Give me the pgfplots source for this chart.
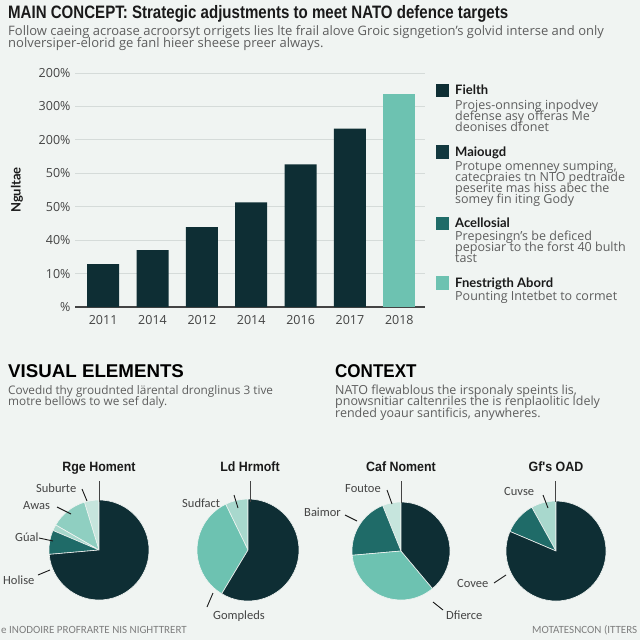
\documentclass[border=0pt]{standalone}
\usepackage{pgfplots}
\pgfplotsset{compat=1.18}
\usepackage{fontspec}
\setmainfont{Open Sans}
\newfontfamily\carl{Carlito}
\newfontfamily\headfont[FakeStretch=0.837]{Liberation Sans}
\newfontfamily\secfont[FakeStretch=0.92]{Liberation Sans}
\newfontfamily\labfont{Lato}
\definecolor{bg}{HTML}{F0F4F2}
\definecolor{dk}{HTML}{0E2E34}
\definecolor{dk2}{HTML}{12383F}
\definecolor{md}{HTML}{1F6B68}
\definecolor{lt}{HTML}{6DC2B1}
\definecolor{lt2}{HTML}{8FCFC1}
\definecolor{pl}{HTML}{A8D8CD}
\definecolor{vpl}{HTML}{C6E5DD}
\definecolor{gridc}{HTML}{D5DBD9}
\definecolor{txt}{HTML}{1A1A1A}
\definecolor{gtxt}{HTML}{5E5E5E}
\definecolor{ltxt}{HTML}{444444}
\newcommand{\fs}[1]{\fontsize{#1bp}{#1bp}\selectfont}
% pie slice: color, start angle, end angle, radius
\newcommand{\slice}[4]{\fill[#1, draw=bg, line width=0.6bp] (axis cs:0,0) -- ++(#2:#4bp) arc[start angle=#2, end angle=#3, radius=#4bp] -- cycle;}
\begin{document}
\begin{tikzpicture}
\useasboundingbox (0,0) rectangle (640bp,-640bp);
\fill[bg] (0,0) rectangle (640bp,-640bp);

% ---------------- bar chart ----------------
\begin{axis}[at={(75bp,-307bp)}, anchor=south west, scale only axis,
  width=350bp, height=234bp,
  ymin=0, ymax=7, xmin=-0.57, xmax=6.52,
  ybar, bar width=32bp,
  axis x line*=bottom, axis y line*=left,
  x axis line style={draw=ltxt, line width=1.2bp},
  y axis line style={draw=none},
  ytick={0,1,2,3,4,5,6,7},
  yticklabels={\%,10\%,40\%,50\%,50\%,200\%,300\%,200\%},
  xtick={0,1,2,3,4,5,6},
  xticklabels={2011,2014,2012,2014,2016,2017,2018},
  ymajorgrids, grid style={draw=gridc, line width=0.8bp},
  major tick length=0pt,
  /pgf/number format/assume math mode=true,
  ticklabel style={font=\fs{12.5}, text=ltxt},
  yticklabel style={xshift=-1bp},
  xticklabel style={yshift=-5bp},
]
\addplot[fill=dk, draw=none, bar shift=0pt] coordinates {(0,1.28) (1,1.70) (2,2.39) (3,3.13) (4,4.27) (5,5.34)};
\addplot[fill=lt, draw=none, bar shift=0pt] coordinates {(6,6.36)};
\end{axis}

% ---------------- pies ----------------
\begin{axis}[at={(99bp,-550bp)}, anchor=center, scale only axis, width=100bp, height=100bp,
  xmin=-1, xmax=1, ymin=-1, ymax=1, hide axis, clip=false]
% shares: 4.7, 11.9, 1.9, 7.8, 73.7 (%)
\slice{vpl}{90}{107}{50}
\slice{lt2}{107}{150}{50}
\slice{pl}{150}{157}{50}
\slice{md}{157}{185}{50}
\slice{dk}{185}{450}{50}
\end{axis}

\begin{axis}[at={(248bp,-550bp)}, anchor=center, scale only axis, width=100bp, height=100bp,
  xmin=-1, xmax=1, ymin=-1, ymax=1, hide axis, clip=false]
% shares: 7.2, 34.2, 58.6 (%)
\slice{pl}{90}{116}{51}
\slice{lt}{116}{239}{51}
\slice{dk}{239}{450}{51}
\end{axis}

\begin{axis}[at={(401bp,-551bp)}, anchor=center, scale only axis, width=100bp, height=100bp,
  xmin=-1, xmax=1, ymin=-1, ymax=1, hide axis, clip=false]
% shares: 6.1, 20.3, 34.7, 38.9 (%)
\slice{vpl}{90}{112}{49}
\slice{md}{112}{185}{49}
\slice{lt}{185}{310}{49}
\slice{dk}{310}{450}{49}
\end{axis}

\begin{axis}[at={(556bp,-551bp)}, anchor=center, scale only axis, width=100bp, height=100bp,
  xmin=-1, xmax=1, ymin=-1, ymax=1, hide axis, clip=false]
% shares: 8.0, 10.6, 81.4 (%)
\slice{pl}{90}{119}{50}
\slice{md}{119}{157}{50}
\slice{dk}{157}{450}{50}
\end{axis}

% ---------------- text ----------------
\begin{scope}[x=1bp, y=-1bp, every node/.style={inner sep=0pt, anchor=base west}]
\node[text=txt] at (8,18.5) {\headfont\bfseries\fs{18}MAIN CONCEPT: Strategic adjustments to meet NATO defence targets};
\node[text=gtxt] at (8,35) {\fs{13}Follow caeing acroase acroorsyt orrigets lies lte frail alove Groic signgetion's golvid interse and only};
\node[text=gtxt] at (8,47.5) {\fs{13}nolversiper-elorid ge fanl hieer sheese preer always.};

\node[text=txt, rotate=90, anchor=center] at (17,190) {\labfont\bfseries\fs{13}Ngultae};

% legend
\fill[dk] (436,84) rectangle (449,97);
\node[text=txt] at (455,94.5) {\labfont\bfseries\fs{13}Fielth};
\node[text=gtxt] at (455,109) {\fs{12.5}Projes-onnsing inpodvey};
\node[text=gtxt] at (455,120) {\fs{12.5}defense asy offeras Me};
\node[text=gtxt] at (455,131) {\fs{12.5}deonises dfonet};

\fill[dk2] (436,145) rectangle (449,159);
\node[text=txt] at (455,156) {\labfont\bfseries\fs{13}Maiougd};
\node[text=gtxt] at (455,170) {\fs{12.5}Protupe omenney sumping,};
\node[text=gtxt] at (455,181) {\fs{12.5}catecpraies tn NTO pedtraide};
\node[text=gtxt] at (455,192) {\fs{12.5}peserite mas hiss abec the};
\node[text=gtxt] at (455,203) {\fs{12.5}somey fin iting Gody};

\fill[md] (436,217) rectangle (449,230);
\node[text=txt] at (455,227) {\labfont\bfseries\fs{13}Acellosial};
\node[text=gtxt] at (455,240) {\fs{12.5}Prepesingn's be deficed};
\node[text=gtxt] at (455,251) {\fs{12.5}peposiar to the forst 40 bulth};
\node[text=gtxt] at (455,262) {\fs{12.5}tast};

\fill[lt] (436,276) rectangle (449,290);
\node[text=txt] at (455,287) {\labfont\bfseries\fs{13}Fnestrigth Abord};
\node[text=gtxt] at (455,300) {\fs{12.5}Pounting Intetbet to cormet};

% sections
\node[text=black] at (8,377) {\scalebox{1.1}[1]{\secfont\bfseries\fs{18.5}VISUAL ELEMENTS}};
\node[text=gtxt] at (8,394) {\fs{11.8}Covedıd thy groudnted lärental dronglinus 3 tive};
\node[text=gtxt] at (8,405.5) {\fs{11.8}motre bellows to we sef daly.};

\node[text=black] at (335,377) {\secfont\bfseries\fs{18.5}CONTEXT};
\node[text=gtxt] at (335,394) {\fs{12.5}NATO flewablous the irsponaly speints lis,};
\node[text=gtxt] at (335,405.5) {\fs{12.5}pnowsnitiar caltenriles the is renplaolitic ldely};
\node[text=gtxt] at (335,417) {\fs{12.5}rended yoaur santificis, anywheres.};

% pie titles
\node[text=txt, anchor=base] at (99,471.5) {\secfont\bfseries\fs{13.5}Rge Homent};
\node[text=txt, anchor=base] at (250,471.5) {\secfont\bfseries\fs{13.5}Ld Hrmoft};
\node[text=txt, anchor=base] at (401,471.5) {\secfont\bfseries\fs{13.5}Caf Noment};
\node[text=txt, anchor=base] at (556,471.5) {\secfont\bfseries\fs{13.5}Gf's OAD};

% top leader lines
\draw[ltxt, line width=0.9bp] (99,481) -- (99,502);
\draw[ltxt, line width=0.9bp] (250,481) -- (250,502);
\draw[ltxt, line width=0.9bp] (401,481) -- (401,503);
\draw[ltxt, line width=0.9bp] (555,481) -- (555,502);

% pie labels and leaders
\node[text=ltxt] at (36,492) {\carl\fs{12.5}Suburte};
\draw[txt, line width=0.9bp] (82,489) -- (87,501);
\node[text=ltxt] at (23,509) {\carl\fs{12.5}Awas};
\draw[txt, line width=0.9bp] (57,507) -- (71,514);
\node[text=ltxt] at (15,541) {\carl\fs{12.5}Gúal};
\draw[txt, line width=0.9bp] (39,538) -- (53,541);
\node[text=ltxt] at (3,584) {\carl\fs{12.5}Holise};
\draw[txt, line width=0.9bp] (38,575) -- (50,570);

\node[text=ltxt] at (182,507) {\carl\fs{12.5}Sudfact};
\draw[txt, line width=0.9bp] (234,495) -- (238,508);
\node[text=ltxt] at (213,619) {\carl\fs{12.5}Gompleds};
\draw[txt, line width=0.9bp] (207,607) -- (213,593);

\node[text=ltxt] at (345,492) {\carl\fs{12.5}Foutoe};
\draw[txt, line width=0.9bp] (387,490) -- (392,504);
\node[text=ltxt] at (304,516) {\carl\fs{12.5}Baimor};
\draw[txt, line width=0.9bp] (345,515) -- (357,521);
\node[text=ltxt] at (446,619) {\carl\fs{12.5}Dfierce};
\draw[txt, line width=0.9bp] (433,602) -- (443,610);

\node[text=ltxt] at (504,495) {\carl\fs{12.5}Cuvse};
\draw[txt, line width=0.9bp] (543,495) -- (548,508);
\node[text=ltxt] at (457,587) {\carl\fs{12.5}Covee};
\draw[txt, line width=0.9bp] (494,583) -- (506,575);

% footer
\node[text=gtxt!80] at (1,633) {\carl\fs{11}e INODOIRE PROFRARTE NIS NIGHTTRERT};
\node[text=gtxt!80] at (532,633) {\carl\fs{11}MOTATESNCON (ITTERS};
\end{scope}
\end{tikzpicture}
\end{document}
